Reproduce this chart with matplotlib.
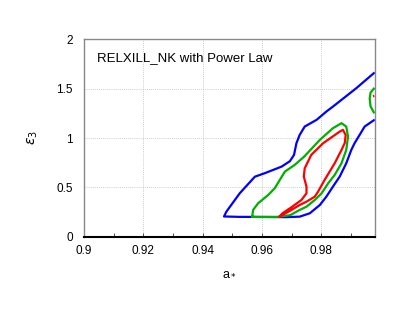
import matplotlib.pyplot as plt
import numpy as np

# contour outlines (a_*, epsilon_3)
blue_a = [0.9977, 0.9946, 0.9929, 0.9912, 0.9901, 0.9884, 0.9862, 0.9839, 0.9817, 0.9795, 0.9761,
          0.9727, 0.9682, 0.9600, 0.9520, 0.9472, 0.9480, 0.9525, 0.9576, 0.9609, 0.9666,
          0.9694, 0.9708, 0.9716, 0.9727, 0.9744, 0.9784, 0.9817, 0.9839, 0.9918, 0.9977]
blue_e = [1.180, 1.116, 1.031, 0.947, 0.879, 0.744, 0.609, 0.507, 0.406, 0.321, 0.237,
          0.203, 0.198, 0.200, 0.201, 0.205, 0.254, 0.440, 0.608, 0.643, 0.710,
          0.765, 0.829, 0.947, 1.031, 1.116, 1.184, 1.268, 1.318, 1.505, 1.657]

green_a = [0.9567, 0.9570, 0.9587, 0.9621, 0.9643, 0.9660, 0.9677, 0.9710, 0.9742, 0.9795, 0.9839,
           0.9868, 0.9884, 0.9890, 0.9884, 0.9868, 0.9845, 0.9823, 0.9801, 0.9778, 0.9750,
           0.9727, 0.9695, 0.9650, 0.9580, 0.9567]
green_e = [0.203, 0.271, 0.339, 0.423, 0.491, 0.575, 0.659, 0.727, 0.811, 0.981, 1.099,
           1.150, 1.116, 1.014, 0.879, 0.744, 0.626, 0.541, 0.440, 0.372, 0.304,
           0.271, 0.218, 0.200, 0.200, 0.203]

green2_a = [0.9977, 0.9966, 0.9963, 0.9966, 0.9977]
green2_e = [1.500, 1.460, 1.400, 1.320, 1.260]

red_a = [0.9660, 0.9690, 0.9727, 0.9750, 0.9778, 0.9789, 0.9811, 0.9845, 0.9868, 0.9879, 0.9882,
         0.9873, 0.9862, 0.9806, 0.9766, 0.9744, 0.9741, 0.9750, 0.9750, 0.9733, 0.9700,
         0.9668, 0.9660]
red_e = [0.205, 0.255, 0.321, 0.355, 0.406, 0.456, 0.575, 0.744, 0.879, 0.950, 1.031,
         1.082, 1.065, 0.947, 0.829, 0.693, 0.609, 0.507, 0.440, 0.372, 0.300,
         0.235, 0.205]

red2_a = [0.9976, 0.9977]
red2_e = [1.430, 1.420]

fig = plt.figure(figsize=(4.07, 3.15), dpi=100)
ax = fig.add_axes([0.2064, 0.2486, 0.7143, 0.6266])
plt.rcParams['font.family'] = ['Liberation Sans', 'DejaVu Sans']

ax.plot(blue_a, blue_e, color='#0000ff', lw=1.6, solid_joinstyle='round')
ax.plot(green_a, green_e, color='#00b000', lw=1.6, solid_joinstyle='round')
ax.plot(green2_a, green2_e, color='#00b000', lw=1.6, solid_joinstyle='round')
ax.plot(red_a, red_e, color='#ff0000', lw=1.6, solid_joinstyle='round')
ax.plot(red2_a, red2_e, color='#ff0000', lw=1.0)

ax.set_xlim(0.9, 0.998)
ax.set_ylim(0, 2)
ax.set_xticks([0.9, 0.92, 0.94, 0.96, 0.98])
ax.set_xticklabels(['0.9', '0.92', '0.94', '0.96', '0.98'], family='Liberation Sans', fontsize=8.5)
ax.set_xticks(np.arange(0.91, 0.999, 0.02), minor=True)
ax.set_yticks([0, 0.5, 1, 1.5, 2])
ax.set_yticklabels(['0', '0.5', '1', '1.5', '2'], family='Liberation Sans', fontsize=8.5)
ax.tick_params(which='both', direction='in', length=3, width=0.6, color='#333333')
ax.tick_params(axis='x', which='both', pad=6)
ax.tick_params(axis='y', which='both', length=0, pad=8)
ax.grid(True, color='#bbbbbb', linestyle=(0, (1, 1.5)), lw=0.6)

for s in ['left', 'top', 'right']:
    ax.spines[s].set_color('#888888')
    ax.spines[s].set_linewidth(1.0)
ax.spines['bottom'].set_color('black')
ax.spines['bottom'].set_linewidth(1.5)

ax.text(0.9044, 1.81, 'RELXILL_NK with Power Law', family='Liberation Sans', fontsize=9.5,
        va='center', ha='left')
ax.set_xlabel(r'a$_*$', family='Liberation Sans', fontsize=9, labelpad=7)
ax.set_ylabel(r'$\varepsilon_3$', fontsize=10, labelpad=12)

fig.savefig('out.png', dpi=100)
